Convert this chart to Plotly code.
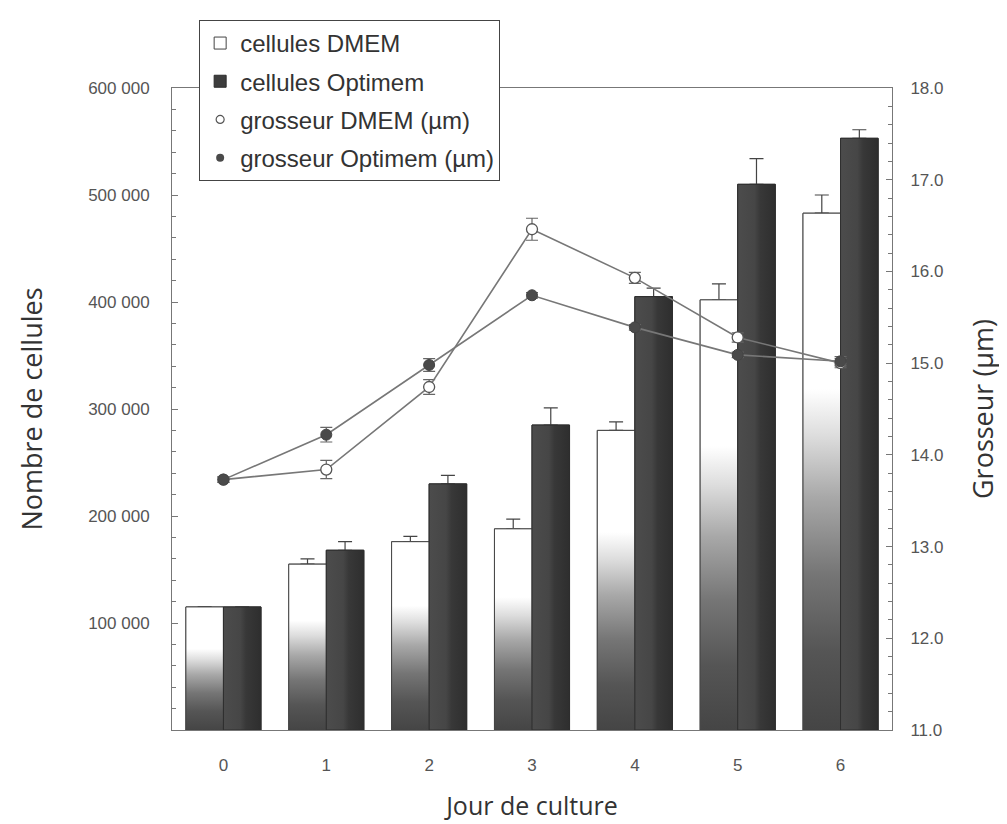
import plotly.graph_objects as go

days = ["0", "1", "2", "3", "4", "5", "6"]
cells_dmem = [115000, 155000, 176000, 188000, 280000, 402000, 483000]
cells_dmem_err = [0, 5000, 5000, 9000, 8000, 15000, 17000]
cells_opti = [115000, 168000, 230000, 285000, 405000, 510000, 553000]
cells_opti_err = [0, 8000, 8000, 16000, 8000, 24000, 8000]
size_dmem = [13.73, 13.84, 14.74, 16.46, 15.93, 15.28, 15.00]
size_dmem_err = [0.03, 0.10, 0.08, 0.12, 0.06, 0.05, 0.05]
size_opti = [13.73, 14.22, 14.98, 15.74, 15.39, 15.09, 15.02]
size_opti_err = [0.03, 0.08, 0.07, 0.03, 0.03, 0.03, 0.05]

left_ticks = [100000, 200000, 300000, 400000, 500000, 600000]
left_ticktext = ["100 000", "200 000", "300 000", "400 000", "500 000", "600 000"]
right_ticks = [11, 12, 13, 14, 15, 16, 17, 18]

xpos = list(range(len(days)))
BARGAP = 0.27
BW = (1 - BARGAP) / 2  # width of one bar in a group of two

tick_font = dict(family="Liberation Sans, Arial, sans-serif", size=17, color="#555555")
ytitle_font = dict(family="Open Sans, Noto Sans, sans-serif", size=27, color="#333333")
xtitle_font = dict(family="Open Sans, Noto Sans, sans-serif", size=25, color="#333333")

fig = go.Figure()

fig.add_trace(go.Bar(
    x=xpos, y=cells_dmem, name="cellules DMEM",
    marker=dict(color="white", line=dict(color="#444444", width=1)),
    error_y=dict(type="data", symmetric=False, array=cells_dmem_err,
                 arrayminus=[0] * len(days), color="#444444", thickness=1.2, width=7),
    legendgroup="g1",
))
fig.add_trace(go.Bar(
    x=xpos, y=cells_opti, name="cellules Optimem",
    marker=dict(color="#3d3d3d", line=dict(color="#2a2a2a", width=1)),
    error_y=dict(type="data", symmetric=False, array=cells_opti_err,
                 arrayminus=[0] * len(days), color="#444444", thickness=1.2, width=7),
    legendgroup="g2",
))

# gradient shading over the bars (same geometry as the grouped bars above)
for i, v in zip(xpos, cells_dmem):
    x0, x1 = i - BW, i
    fig.add_trace(go.Scatter(
        x=[x0, x1, x1, x0, x0], y=[0, 0, v, v, 0], mode="lines", fill="toself",
        line=dict(color="#444444", width=1), showlegend=False, hoverinfo="skip",
        fillgradient=dict(type="vertical", start=0, stop=v,
                          colorscale=[[0, "#454545"], [0.15, "#555555"], [0.3, "#757575"],
                                      [0.45, "#a8a8a8"], [0.57, "#dddddd"], [0.66, "#ffffff"],
                                      [1, "#ffffff"]]),
    ))
for i, v in zip(xpos, cells_opti):
    x0, x1 = i, i + BW
    fig.add_trace(go.Scatter(
        x=[x0, x1, x1, x0, x0], y=[0, 0, v, v, 0], mode="lines", fill="toself",
        line=dict(color="#2e2e2e", width=1), showlegend=False, hoverinfo="skip",
        fillgradient=dict(type="horizontal", start=x0, stop=x1,
                          colorscale=[[0, "#4c4c4c"], [0.45, "#464646"], [0.6, "#383838"],
                                      [1, "#2e2e2e"]]),
    ))

fig.add_trace(go.Scatter(
    x=xpos, y=size_dmem, yaxis="y2", mode="lines+markers", showlegend=False,
    line=dict(color="#777777", width=1.6),
    marker=dict(symbol="circle", size=11, color="white", line=dict(color="#555555", width=1.3)),
    error_y=dict(type="data", array=size_dmem_err, color="#666666", thickness=1.2, width=6),
))
fig.add_trace(go.Scatter(
    x=xpos, y=size_opti, yaxis="y2", mode="lines+markers", showlegend=False,
    line=dict(color="#777777", width=1.6),
    marker=dict(symbol="circle", size=11, color="#4a4a4a", line=dict(color="#444444", width=1)),
    error_y=dict(type="data", array=size_opti_err, color="#666666", thickness=1.2, width=6),
))

# legend-only entries for the line series (markers only, as in the reference)
fig.add_trace(go.Scatter(
    x=[None], y=[None], yaxis="y2", mode="markers", name="grosseur DMEM (µm)",
    marker=dict(symbol="circle", size=8, color="white", line=dict(color="#555555", width=1.2)),
    legendgroup="g3",
))
fig.add_trace(go.Scatter(
    x=[None], y=[None], yaxis="y2", mode="markers", name="grosseur Optimem (µm)",
    marker=dict(symbol="circle", size=8, color="#4a4a4a"),
    legendgroup="g4",
))

fig.update_layout(
    width=1007, height=824,
    margin=dict(l=164, r=123, t=72, b=102),
    paper_bgcolor="white", plot_bgcolor="white",
    barmode="group", bargap=BARGAP, bargroupgap=0,
    showlegend=True,
    legend=dict(
        x=0.0377, y=1.106, xanchor="left", yanchor="top",
        bgcolor="white", bordercolor="#444444", borderwidth=1,
        font=dict(family="Liberation Sans, Arial, sans-serif", size=24, color="#333333"),
        traceorder="grouped", tracegroupgap=4, itemwidth=30,
    ),
    xaxis=dict(
        range=[-0.5, 6.5], tickvals=xpos, ticktext=days,
        showline=True, linecolor="#777777", linewidth=1, mirror=True,
        ticks="", tickfont=tick_font, ticklabelstandoff=20,
        title=dict(text="Jour de culture", font=xtitle_font, standoff=23),
        showgrid=False, zeroline=False, automargin=False,
    ),
    yaxis=dict(
        range=[0, 600000], tickvals=left_ticks, ticktext=left_ticktext,
        showline=True, linecolor="#777777", linewidth=1,
        ticks="inside", ticklen=6, tickcolor="#777777",
        minor=dict(ticks="inside", dtick=20000, ticklen=4, tickcolor="#777777"),
        tickfont=tick_font, ticklabelstandoff=18,
        title=dict(text="Nombre de cellules", font=ytitle_font, standoff=37),
        showgrid=False, zeroline=False, automargin=False,
    ),
    yaxis2=dict(
        range=[11, 18], tickvals=right_ticks, tickformat=".1f", overlaying="y", side="right",
        showline=True, linecolor="#777777", linewidth=1,
        ticks="inside", ticklen=6, tickcolor="#777777",
        minor=dict(ticks="inside", dtick=0.2, ticklen=4, tickcolor="#777777"),
        tickfont=tick_font, ticklabelstandoff=14,
        title=dict(text="Grosseur (µm)", font=ytitle_font, standoff=31),
        showgrid=False, zeroline=False, automargin=False,
    ),
)

fig.write_html("out.html")
